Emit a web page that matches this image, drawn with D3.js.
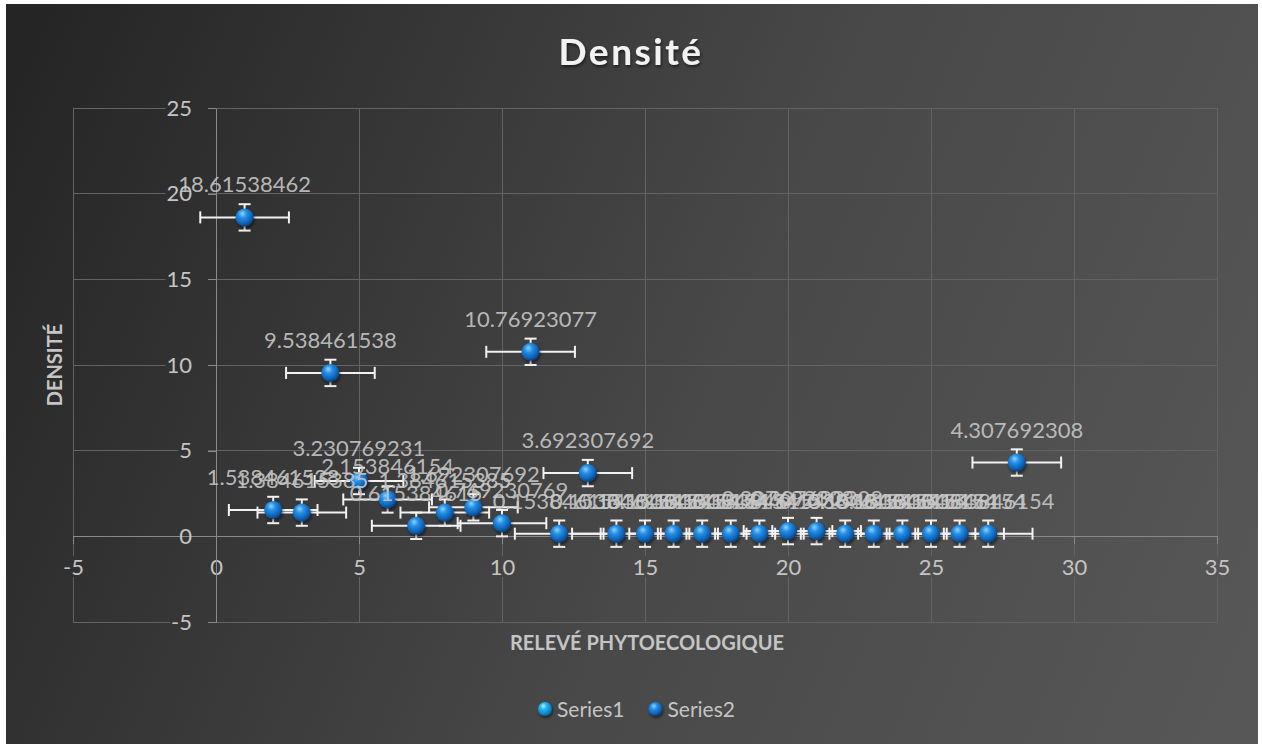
<!DOCTYPE html>
<html>
<head>
<meta charset="utf-8">
<title>Densité</title>
<style>
    body {
        margin: 0;
        background: #fff;
    }
    svg {
        font-family: Lato, "Open Sans", sans-serif;
        display: block;
    }
    .grid line {
        stroke: #636363;
        stroke-width: 1;
        shape-rendering: crispEdges;
    }
    .axis path,
    .axis line {
        stroke: #8a8a8a;
        stroke-width: 1.3;
        shape-rendering: crispEdges;
    }
    .axis text {
        fill: #c4c4c4;
        font-family: Lato, "Open Sans", sans-serif;
        font-size: 22px;
    }
    .err line {
        stroke: #f2f2f2;
        stroke-width: 2;
    }
    .label {
        fill: #c8c8c8;
        fill-opacity: .9;
        font-size: 22px;
        text-anchor: middle;
    }
</style>
</head>
<body>
<script src="https://d3js.org/d3.v7.min.js"></script>
<script>
    // data
    var releve = [1, 2, 3, 4, 5, 6, 7, 8, 9, 10, 11, 12, 13, 14, 15, 16, 17, 18, 19, 20, 21, 22, 23, 24, 25, 26, 27, 28];
    var densite = [18.61538462, 1.538461538, 1.384615385, 9.538461538, 3.230769231, 2.153846154, 0.615384615,
        1.384615385, 1.692307692, 0.769230769, 10.76923077, 0.153846154, 3.692307692,
        0.153846154, 0.153846154, 0.153846154, 0.153846154, 0.153846154, 0.153846154,
        0.307692308, 0.307692308,
        0.153846154, 0.153846154, 0.153846154, 0.153846154, 0.153846154, 0.153846154,
        4.307692308];
    var erreurX = 1.55;
    var erreurY = 0.77;
    var xTicks = [-5, 0, 5, 10, 15, 20, 25, 30, 35];
    var yTicks = [-5, 0, 5, 10, 15, 20, 25];
    var series = ["Series1", "Series2"];

    var W = 1262, H = 748;
    var plot = { left: 73, right: 1217, top: 108, bottom: 622 };

    var svg = d3.select("body").append("svg")
        .attr("width", W)
        .attr("height", H);

    var defs = svg.append("defs");

    // background gradient, user space so label boxes can reuse it
    var bg = defs.append("linearGradient")
        .attr("id", "bg")
        .attr("gradientUnits", "userSpaceOnUse")
        .attr("x1", 0).attr("y1", 100)
        .attr("x2", W).attr("y2", H - 100);
    bg.append("stop").attr("offset", 0).attr("stop-color", "#252525");
    bg.append("stop").attr("offset", 0.55).attr("stop-color", "#484848");
    bg.append("stop").attr("offset", 1).attr("stop-color", "#575757");

    // sphere markers
    function sphere(id, c0, c1, c2, c3) {
        var g = defs.append("radialGradient")
            .attr("id", id)
            .attr("cx", "40%").attr("cy", "35%").attr("r", "65%")
            .attr("fx", "38%").attr("fy", "28%");
        g.append("stop").attr("offset", 0).attr("stop-color", c0);
        g.append("stop").attr("offset", 0.35).attr("stop-color", c1);
        g.append("stop").attr("offset", 0.8).attr("stop-color", c2);
        g.append("stop").attr("offset", 1).attr("stop-color", c3);
    }
    sphere("s1", "#b6ecff", "#27b8f0", "#0a86c8", "#075d8e");
    sphere("s2", "#8fd2ff", "#2590e6", "#0d5fb2", "#08407c");

    var shadow = defs.append("filter").attr("id", "shadow")
        .attr("x", "-30%").attr("y", "-30%").attr("width", "160%").attr("height", "160%");
    shadow.append("feDropShadow")
        .attr("dx", 1).attr("dy", 2).attr("stdDeviation", 1.5)
        .attr("flood-color", "#000").attr("flood-opacity", 0.55);

    svg.append("rect")
        .attr("x", 6).attr("y", 4)
        .attr("width", W - 10).attr("height", H - 8)
        .attr("fill", "url(#bg)");

    // scales
    var x = d3.scaleLinear().domain([-5, 35]).range([plot.left, plot.right]);
    var y = d3.scaleLinear().domain([-5, 25]).range([plot.bottom, plot.top]);

    // gridlines
    var grid = svg.append("g").attr("class", "grid");
    grid.selectAll(".gx").data(xTicks).enter().append("line")
        .attr("x1", x).attr("x2", x)
        .attr("y1", plot.top).attr("y2", plot.bottom);
    grid.selectAll(".gy").data(yTicks).enter().append("line")
        .attr("y1", y).attr("y2", y)
        .attr("x1", plot.left).attr("x2", plot.right);

    // axes crossing at 0, plain hyphen for negatives
    var fmt = function(d) { return String(d); };
    var xAxis = svg.append("g")
        .attr("class", "axis")
        .attr("transform", "translate(0," + y(0) + ")")
        .call(d3.axisBottom(x).tickValues(xTicks).tickFormat(fmt).tickSize(8).tickSizeOuter(0).tickPadding(15));

    var yAxis = svg.append("g")
        .attr("class", "axis")
        .attr("transform", "translate(" + x(0) + ",0)")
        .call(d3.axisLeft(y).tickValues(yTicks).tickFormat(fmt).tickSize(8).tickSizeOuter(0).tickPadding(16));

    // hide the lines behind the tick labels, like excel does
    yAxis.selectAll(".tick").each(function() {
        var t = d3.select(this).select("text");
        var b = t.node().getBBox();
        var ty = +d3.select(this).attr("transform").match(/,([-\d.]+)/)[1];
        svg.insert("rect", ".axis")
            .attr("x", x(0) + b.x - 1)
            .attr("y", ty + b.y + 3)
            .attr("width", -b.x - 8 + 1)
            .attr("height", b.height - 6)
            .attr("fill", "url(#bg)");
    });
    xAxis.selectAll(".tick").each(function() {
        var t = d3.select(this).select("text");
        var b = t.node().getBBox();
        var tx = +d3.select(this).attr("transform").match(/\(([-\d.]+)/)[1];
        svg.insert("rect", ".axis")
            .attr("x", tx + b.x)
            .attr("y", y(0) + b.y + 3)
            .attr("width", b.width)
            .attr("height", b.height - 6)
            .attr("fill", "url(#bg)");
    });
    svg.selectAll(".axis").raise();

    var points = releve.map(function(r, i) { return { x: r, y: densite[i] }; });

    // error bars
    var err = svg.append("g").attr("class", "err");
    var cap = 6;
    points.forEach(function(p) {
        err.append("line")
            .attr("x1", x(p.x - erreurX)).attr("x2", x(p.x + erreurX))
            .attr("y1", y(p.y)).attr("y2", y(p.y));
        err.append("line")
            .attr("x1", x(p.x - erreurX)).attr("x2", x(p.x - erreurX))
            .attr("y1", y(p.y) - cap).attr("y2", y(p.y) + cap);
        err.append("line")
            .attr("x1", x(p.x + erreurX)).attr("x2", x(p.x + erreurX))
            .attr("y1", y(p.y) - cap).attr("y2", y(p.y) + cap);
        err.append("line")
            .attr("x1", x(p.x)).attr("x2", x(p.x))
            .attr("y1", y(p.y + erreurY)).attr("y2", y(p.y - erreurY));
        err.append("line")
            .attr("x1", x(p.x) - cap).attr("x2", x(p.x) + cap)
            .attr("y1", y(p.y + erreurY)).attr("y2", y(p.y + erreurY));
        err.append("line")
            .attr("x1", x(p.x) - cap).attr("x2", x(p.x) + cap)
            .attr("y1", y(p.y - erreurY)).attr("y2", y(p.y - erreurY));
    });

    // markers
    svg.append("g").selectAll("circle")
        .data(points)
        .enter().append("circle")
        .attr("cx", function(d) { return x(d.x); })
        .attr("cy", function(d) { return y(d.y); })
        .attr("r", 9)
        .attr("fill", "url(#s2)")
        .attr("filter", "url(#shadow)");

    // data labels
    svg.append("g").selectAll("text")
        .data(points)
        .enter().append("text")
        .attr("class", "label")
        .attr("x", function(d) { return x(d.x); })
        .attr("y", function(d) { return y(d.y) - 25; })
        .text(function(d) { return String(d.y); });

    // title
    svg.append("text")
        .attr("x", 631).attr("y", 65)
        .attr("text-anchor", "middle")
        .style("font-size", "37px")
        .style("font-weight", "bold")
        .style("letter-spacing", "2.5px")
        .attr("fill", "#f2f2f2")
        .attr("filter", "url(#shadow)")
        .text("Densité");

    // axis titles
    svg.append("text")
        .attr("transform", "translate(62,365) rotate(-90)")
        .attr("text-anchor", "middle")
        .style("font-size", "20px")
        .style("font-weight", "bold")
        .attr("fill", "#c4c4c4")
        .text("DENSITÉ");

    svg.append("text")
        .attr("x", 647).attr("y", 650)
        .attr("text-anchor", "middle")
        .style("font-size", "20px")
        .style("font-weight", "bold")
        .attr("fill", "#c4c4c4")
        .text("RELEVÉ PHYTOECOLOGIQUE");

    // legend
    var legend = svg.append("g").attr("transform", "translate(0,709)");
    var lx = 538;
    series.forEach(function(s, i) {
        legend.append("circle")
            .attr("cx", lx + 7).attr("cy", 0).attr("r", 7)
            .attr("fill", i === 0 ? "url(#s1)" : "url(#s2)")
            .attr("filter", "url(#shadow)");
        var t = legend.append("text")
            .attr("x", lx + 19).attr("y", 7.5)
            .style("font-size", "21px")
            .attr("fill", "#c4c4c4")
            .text(s);
        lx += 19 + t.node().getComputedTextLength() + 24;
    });
</script>
</body>
</html>
